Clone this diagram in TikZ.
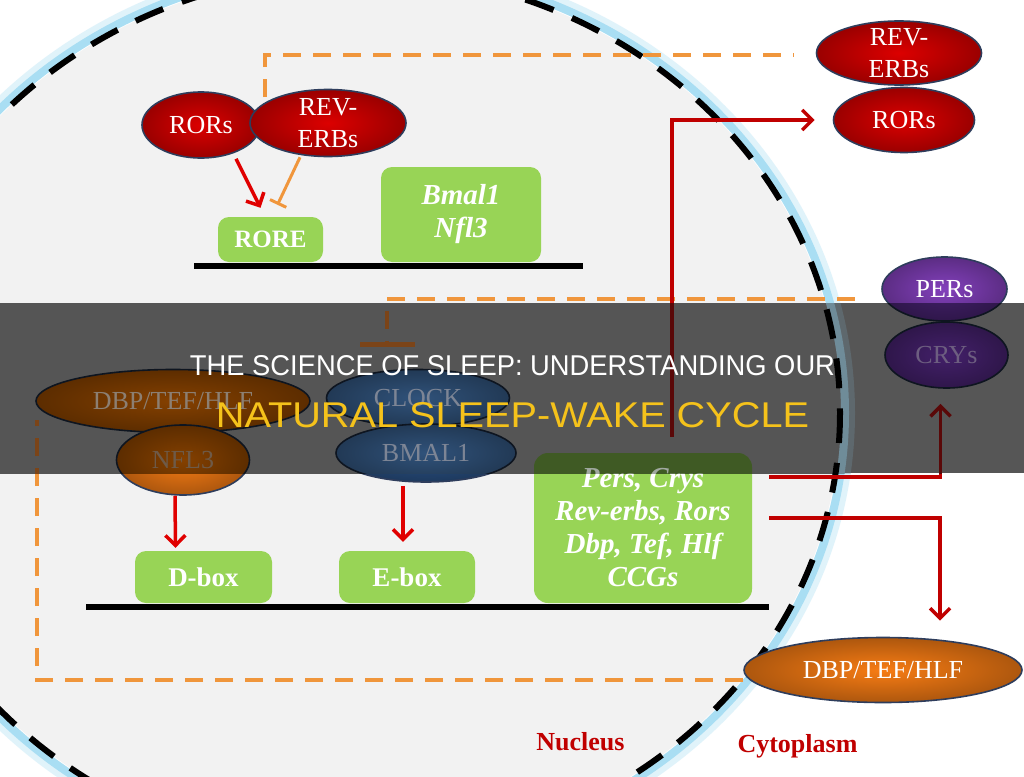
\documentclass[tikz,border=0pt]{standalone}
\usepackage{fontspec}
\usepackage{graphicx}
\setmainfont{Liberation Serif}
\newfontfamily\titlefont{Liberation Sans}
\usetikzlibrary{shapes.geometric,arrows.meta}

\newcommand\efont{\fontsize{26}{32}\selectfont}
\newcommand\bxfont{\fontsize{25}{30}\selectfont\bfseries}
\newcommand\bifont{\fontsize{29}{33}\selectfont\bfseries\itshape}
\newcommand\dxfont{\fontsize{27}{32}\selectfont\bfseries}
\newcommand\lbfont{\fontsize{26}{31}\selectfont\bfseries}

\newcommand\setnormalcolors{%
\definecolor{cBg}{HTML}{F2F2F2}%
\definecolor{cGlow}{HTML}{A9DEF3}%
\definecolor{cOr}{HTML}{F0963C}%
\definecolor{cArr}{HTML}{E00000}%
\definecolor{cDk}{HTML}{C00000}%
\definecolor{cGreen}{HTML}{98D456}%
\definecolor{cTG}{HTML}{FFFFFF}%
\definecolor{cRedE}{HTML}{DC0000}%
\definecolor{cBord}{HTML}{2E3D5C}%
\definecolor{cPer}{HTML}{8340BC}%
\definecolor{cCry}{HTML}{552878}%
\definecolor{cDbp}{HTML}{F77C14}%
\definecolor{cClk}{HTML}{2A5286}%
\definecolor{cTxt}{HTML}{FFFFFF}%
\definecolor{cTDbp}{HTML}{FFFFFF}%
\definecolor{cTClk}{HTML}{FFFFFF}%
\definecolor{cTCry}{HTML}{FFFFFF}%
\definecolor{cTNfl}{HTML}{FFFFFF}%
}
\newcommand\setbannercolors{%
\definecolor{cBg}{HTML}{555555}%
\definecolor{cGlow}{HTML}{6F8C99}%
\definecolor{cOr}{HTML}{7B4418}%
\definecolor{cArr}{HTML}{6A0000}%
\definecolor{cDk}{HTML}{5A0808}%
\definecolor{cGreen}{HTML}{3F5A24}%
\definecolor{cTG}{HTML}{A0A8A0}%
\definecolor{cRedE}{HTML}{600000}%
\definecolor{cBord}{HTML}{0E1520}%
\definecolor{cPer}{HTML}{43206A}%
\definecolor{cCry}{HTML}{43206A}%
\definecolor{cDbp}{HTML}{844000}%
\definecolor{cClk}{HTML}{30527A}%
\definecolor{cTxt}{HTML}{888888}%
\definecolor{cTDbp}{HTML}{8C7F72}%
\definecolor{cTClk}{HTML}{7D8595}%
\definecolor{cTCry}{HTML}{6D5E80}%
\definecolor{cTNfl}{HTML}{6E5A48}%
}
\definecolor{cBanner}{HTML}{565656}
\definecolor{cYel}{HTML}{F5C21B}
\definecolor{cLab}{HTML}{C00000}

\tikzset{
  ordash/.style={draw=cOr, line width=3.5pt, dash pattern=on 18pt off 12pt},
  dkarr/.style={draw=cDk, line width=3.5pt, -{Straight Barb[length=10pt,width=20pt]}},
  rarr/.style={draw=cArr, line width=3.5pt, -{Straight Barb[length=10pt,width=20pt]}},
  bound/.style={draw=black, line width=6pt, dash pattern=on 30pt off 20pt},
  ell/.style={ellipse, draw=cBord, line width=1.6pt, inner sep=0pt, font=\efont, text=cTxt},
  efill/.style={shade, inner color=#1, outer color=#1!70!black},
  lab/.style={text=cTxt, font=\efont, align=center, inner sep=0pt},
  gbox/.style={rectangle, rounded corners=11pt, fill=cGreen, inner sep=0pt, text=cTG, align=center},
  dna/.style={draw=black, line width=6pt},
  ttl/.style={anchor=base, inner sep=0pt},
  celllab/.style={anchor=base, inner sep=0pt, text=cLab, font=\lbfont}
}

\newcommand\drawall{%
\fill[cBg] (357,413) ellipse [x radius=483, y radius=441];
\draw[cGlow, line width=14pt, opacity=0.35] (357,413) ellipse [x radius=491, y radius=449];
\draw[cGlow, line width=8pt] (357,413) ellipse [x radius=488, y radius=446];
\draw[bound] (357,413) ellipse [x radius=483, y radius=441];
% promoter boxes
\node[gbox, minimum width=105pt, minimum height=45pt, font=\bxfont] (rore) at (270.5,239.5) {RORE};
\node[gbox, minimum width=160pt, minimum height=95pt, font=\bifont] (bmalbox) at (461,214.5) {Bmal1\\Nfl3};
\node[gbox, minimum width=137pt, minimum height=52pt, font=\dxfont] (dbox) at (203.5,577) {D-box};
\node[gbox, minimum width=136pt, minimum height=52pt, font=\dxfont] (ebox) at (407,577) {E-box};
\node[gbox, minimum width=218pt, minimum height=150pt, rounded corners=14pt, font=\bifont] (persbox) at (643,528) {Pers, Crys\\Rev-erbs, Rors\\Dbp, Tef, Hlf\\CCGs};
\draw[dna] (194,266) -- (583,266);
\draw[dna] (86,607) -- (769,607);
% proteins
\node[ell, efill=cRedE, minimum width=118pt, minimum height=66pt] (ror1) at (201,125) {RORs};
\node[ell, efill=cRedE, minimum width=156pt, minimum height=67pt, label={[lab]center:REV-\\ERBs}] (rev1) at (328,123) {};
\node[ell, efill=cRedE, minimum width=165pt, minimum height=64pt, label={[lab]center:REV-\\ERBs}] (rev2) at (899,53) {};
\node[ell, efill=cRedE, minimum width=141pt, minimum height=65pt] (ror2) at (904,120) {RORs};
\node[ell, efill=cPer, minimum width=125pt, minimum height=64pt] (pers) at (944.5,289) {PERs};
\node[ell, efill=cCry, minimum width=123pt, minimum height=66pt, text=cTCry] (crys) at (946.5,355) {CRYs};
\node[ell, efill=cDbp, minimum width=274pt, minimum height=63pt, text=cTDbp] (dbp1) at (173,401) {DBP/TEF/HLF};
\node[ell, efill=cDbp, minimum width=133pt, minimum height=70pt, text=cTNfl] (nfl3) at (183,460) {NFL3};
\node[ell, efill=cClk, minimum width=183pt, minimum height=57pt, text=cTClk] (clock) at (418,398) {CLOCK};
\node[ell, efill=cClk, minimum width=180pt, minimum height=58pt, text=cTClk] (bmal1) at (426,453) {BMAL1};
\node[ell, efill=cDbp, minimum width=278pt, minimum height=65pt] (dbp2) at (883,670) {DBP/TEF/HLF};
% connectors
\coordinate (oa) at (265,97);
\draw[ordash] (oa) |- ([xshift=-22pt,yshift=-2pt]rev2.west);
\draw[ordash, -{Bar[width=55pt,line width=5pt]}] ([xshift=-26pt,yshift=-10pt]pers.west) -| ([xshift=-31pt,yshift=22pt]clock.north);
\draw[ordash] ([yshift=-10pt]dbp2.west) -| ([xshift=-136pt,yshift=-19pt]dbp1.center);
\draw[rarr] ([xshift=35pt]ror1.south) -- ([xshift=-10pt,yshift=9pt]rore.north);
\draw[draw=cOr, line width=3pt, -{Bar[width=18pt,line width=3pt]}] ([xshift=-28pt]rev1.south) -- ([xshift=7pt,yshift=12pt]rore.north);
\draw[rarr] ([xshift=-8pt]nfl3.south) -- ([xshift=-28pt,yshift=3pt]dbox.north);
\draw[rarr] ([xshift=-23pt,yshift=-3pt]bmal1.south) -- ([xshift=-4pt,yshift=9pt]ebox.north);
\draw[dkarr] ([xshift=29pt,yshift=16pt]persbox.north) |- ([xshift=-18pt]ror2.west);
\draw[dkarr] ([xshift=17pt,yshift=51pt]persbox.east) -| ([xshift=-6pt,yshift=-15pt]crys.south);
\draw[dkarr] ([xshift=17pt,yshift=10pt]persbox.east) -| ([xshift=57pt,yshift=16pt]dbp2.north);
}

\begin{document}
\begin{tikzpicture}[x=1pt,y=-1pt]
\useasboundingbox (0,0) rectangle (1024,776);
\fill[white] (0,0) rectangle (1024,776);
\setnormalcolors
\drawall
\node[celllab] (nuc) at (580.5,750) {Nucleus};
\node[celllab] (cyt) at (797.5,752) {Cytoplasm};
\begin{scope}
\clip (0,303) rectangle (1024,473);
\fill[cBanner] (0,303) rectangle (1024,473);
\setbannercolors
\drawall
\end{scope}
\node[ttl, text=white] (t1) at (512.5,375) {\resizebox{645pt}{20pt}{\titlefont THE SCIENCE OF SLEEP: UNDERSTANDING OUR}};
\node[ttl, text=cYel] (t2) at (512.5,427) {\resizebox{593pt}{25pt}{\titlefont NATURAL SLEEP-WAKE CYCLE}};
\end{tikzpicture}
\end{document}
